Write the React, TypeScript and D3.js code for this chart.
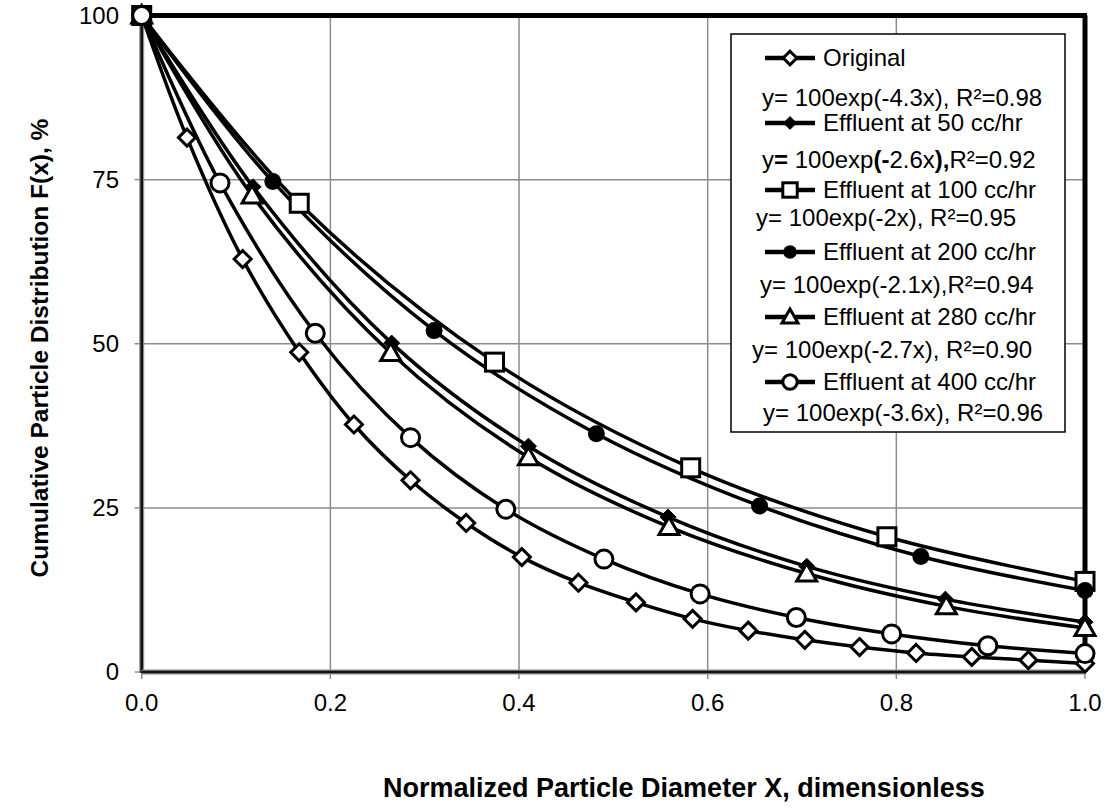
import React from 'react';
import * as d3 from 'd3';

// data
const seriesNames = ['Original', 'Effluent at 50 cc/hr', 'Effluent at 100 cc/hr', 'Effluent at 200 cc/hr', 'Effluent at 280 cc/hr', 'Effluent at 400 cc/hr'];
const seriesMarkers = ['diamondOpen', 'diamondFilled', 'square', 'circleFilled', 'triangle', 'circleOpen'];
const equations = [
  'y= 100exp(-4.3x), R²=0.98',
  'y= 100exp(-2.6x),R²=0.92',
  'y= 100exp(-2x), R²=0.95',
  'y= 100exp(-2.1x),R²=0.94',
  'y= 100exp(-2.7x), R²=0.90',
  'y= 100exp(-3.6x), R²=0.96',
];

const originalX = [0, 0.048, 0.107, 0.167, 0.225, 0.285, 0.344, 0.403, 0.463, 0.524, 0.584, 0.643, 0.703, 0.761, 0.821, 0.880, 0.940, 1.0];
const originalY = [100, 81.4, 62.9, 48.7, 37.7, 29.2, 22.7, 17.5, 13.6, 10.6, 8.1, 6.3, 4.9, 3.8, 2.9, 2.3, 1.8, 1.3];
const eff50X = [0, 0.118, 0.265, 0.41, 0.558, 0.705, 0.852, 1.0];
const eff50Y = [100, 73.9, 50.1, 34.4, 23.6, 16.1, 11.1, 7.6];
const eff100X = [0, 0.167, 0.374, 0.582, 0.790, 1.0];
const eff100Y = [100, 71.4, 47.2, 31.1, 20.6, 13.8];
const eff200X = [0, 0.139, 0.31, 0.482, 0.655, 0.826, 1.0];
const eff200Y = [100, 74.7, 52.0, 36.3, 25.3, 17.6, 12.4];
const eff280X = [0, 0.117, 0.264, 0.41, 0.559, 0.705, 0.853, 1.0];
const eff280Y = [100, 72.6, 48.6, 32.7, 22.1, 15.0, 10.0, 6.7];
const eff400X = [0, 0.083, 0.184, 0.285, 0.386, 0.49, 0.592, 0.694, 0.795, 0.897, 1.0];
const eff400Y = [100, 74.5, 51.6, 35.7, 24.8, 17.2, 11.9, 8.3, 5.8, 4.0, 2.8];

const allX = [originalX, eff50X, eff100X, eff200X, eff280X, eff400X];
const allY = [originalY, eff50Y, eff100Y, eff200Y, eff280Y, eff400Y];

const xTicks = [0, 0.2, 0.4, 0.6, 0.8, 1.0];
const yTicks = [0, 25, 50, 75, 100];

const FONT = '"Liberation Sans", Arial, sans-serif';

function Marker({ kind, x, y, s = 1 }: { kind: string; x: number; y: number; s?: number }) {
  const sw = 3;
  if (kind === 'diamondOpen' || kind === 'diamondFilled') {
    const h = (kind === 'diamondOpen' ? 8.5 : 8) * s;
    const filled = kind === 'diamondFilled';
    return (
      <path d={`M${x},${y - h}L${x + h},${y}L${x},${y + h}L${x - h},${y}Z`}
        fill={filled ? '#000' : '#fff'} stroke="#000" strokeWidth={filled ? 1 : sw} strokeLinejoin="miter" />
    );
  }
  if (kind === 'square') {
    const h = 9 * s;
    return <rect x={x - h} y={y - h} width={2 * h} height={2 * h} fill="#fff" stroke="#000" strokeWidth={sw} />;
  }
  if (kind === 'circleFilled') {
    return <circle cx={x} cy={y} r={8.5 * s} fill="#000" />;
  }
  if (kind === 'circleOpen') {
    return <circle cx={x} cy={y} r={9 * s} fill="#fff" stroke="#000" strokeWidth={sw} />;
  }
  // triangle
  const w = 10 * s;
  return (
    <path d={`M${x},${y - w}L${x + w},${y + w * 0.75}L${x - w},${y + w * 0.75}Z`}
      fill="#fff" stroke="#000" strokeWidth={sw} strokeLinejoin="miter" />
  );
}

export default function App() {
  const left = 141.7, right = 1085, top = 15.5, bottom = 672;
  const x = d3.scaleLinear().domain([0, 1]).range([left, right]);
  const y = d3.scaleLinear().domain([0, 100]).range([bottom, top]);

  const line = d3.line<[number, number]>()
    .x(d => x(d[0]))
    .y(d => y(d[1]))
    .curve(d3.curveCatmullRom.alpha(0.5));

  const series = allX.map((xs, i) => xs.map((v, j) => [v, allY[i][j]] as [number, number]));

  // legend layout
  const lgX = 731, lgY = 34, lgW = 334, lgH = 398;
  const nameRows = [58, 123, 190, 252, 317, 382];
  const eqRows = [98, 160, 218, 285, 350, 413];
  const eqX = [762, 762, 756, 760, 752, 763];

  const boldEq2 = (
    <>
      <tspan>y</tspan><tspan fontWeight="bold">=</tspan><tspan> 100exp</tspan>
      <tspan fontWeight="bold">(-</tspan><tspan>2.6x</tspan><tspan fontWeight="bold">),</tspan><tspan>R²=0.92</tspan>
    </>
  );

  return (
    <svg width={1105} height={812} style={{ position: 'absolute', left: 0, top: 0, background: '#fff' }}
      fontFamily={FONT}>
      <rect x={0} y={0} width={1105} height={812} fill="#fff" />
      {/* gridlines */}
      {xTicks.slice(1, -1).map(t => (
        <line key={'gx' + t} x1={x(t)} x2={x(t)} y1={top} y2={bottom} stroke="#8c8c8c" strokeWidth={1.5} />
      ))}
      {yTicks.slice(1, -1).map(t => (
        <line key={'gy' + t} x1={left} x2={right} y1={y(t)} y2={y(t)} stroke="#8c8c8c" strokeWidth={1.5} />
      ))}
      {/* ticks */}
      {xTicks.map(t => (
        <line key={'tx' + t} x1={x(t)} x2={x(t)} y1={bottom} y2={bottom + 7} stroke="#8c8c8c" strokeWidth={1.5} />
      ))}
      {yTicks.map(t => (
        <line key={'ty' + t} x1={left - 7} x2={left} y1={y(t)} y2={y(t)} stroke="#8c8c8c" strokeWidth={1.5} />
      ))}
      {/* plot border */}
      <line x1={left} x2={right + 2} y1={top} y2={top} stroke="#000" strokeWidth={5} />
      <line x1={right} x2={right} y1={top} y2={bottom} stroke="#000" strokeWidth={5} />
      <line x1={left} x2={left} y1={top} y2={bottom + 1} stroke="#8c8c8c" strokeWidth={5} />
      <line x1={left} x2={left} y1={top} y2={bottom + 1} stroke="#111" strokeWidth={2.5} />
      <line x1={left} x2={right} y1={bottom} y2={bottom} stroke="#8c8c8c" strokeWidth={5} />
      <line x1={left} x2={right} y1={bottom} y2={bottom} stroke="#111" strokeWidth={2.5} />

      {/* tick labels */}
      {xTicks.map(t => (
        <text key={'lx' + t} x={x(t)} y={711} fontSize={24} textAnchor="middle">{d3.format('.1f')(t)}</text>
      ))}
      {yTicks.map(t => (
        <text key={'ly' + t} x={119} y={y(t)} dy="0.35em" fontSize={24} textAnchor="end">{t}</text>
      ))}

      {/* series lines */}
      {series.map((pts, i) => (
        <path key={'l' + i} d={line(pts) || ''} fill="none" stroke="#000" strokeWidth={3.5} />
      ))}
      {/* markers */}
      {series.map((pts, i) => (
        <g key={'m' + i}>
          {pts.map((p, j) => <Marker key={j} kind={seriesMarkers[i]} x={x(p[0])} y={y(p[1])} />)}
        </g>
      ))}

      {/* legend */}
      <rect x={lgX} y={lgY} width={lgW} height={lgH} fill="#fff" stroke="#000" strokeWidth={1.5} />
      {seriesNames.map((n, i) => (
        <g key={'lg' + i}>
          <line x1={765} x2={815} y1={nameRows[i]} y2={nameRows[i]} stroke="#000" strokeWidth={4.5} />
          <Marker kind={seriesMarkers[i]} x={790} y={nameRows[i]} s={0.8} />
          <text x={823} y={nameRows[i]} dy="0.35em" fontSize={24}>{n}</text>
          <text x={eqX[i]} y={eqRows[i]} dy="0.35em" fontSize={24}>{i === 1 ? boldEq2 : equations[i]}</text>
        </g>
      ))}

      {/* axis titles */}
      <text x={383} y={797} fontSize={27} fontWeight="bold">Normalized Particle Diameter X, dimensionless</text>
      <text transform={`translate(48,${348}) rotate(-90)`} fontSize={24.5} fontWeight="bold" textAnchor="middle">
        Cumulative Particle Distribution F(x), %
      </text>
    </svg>
  );
}
